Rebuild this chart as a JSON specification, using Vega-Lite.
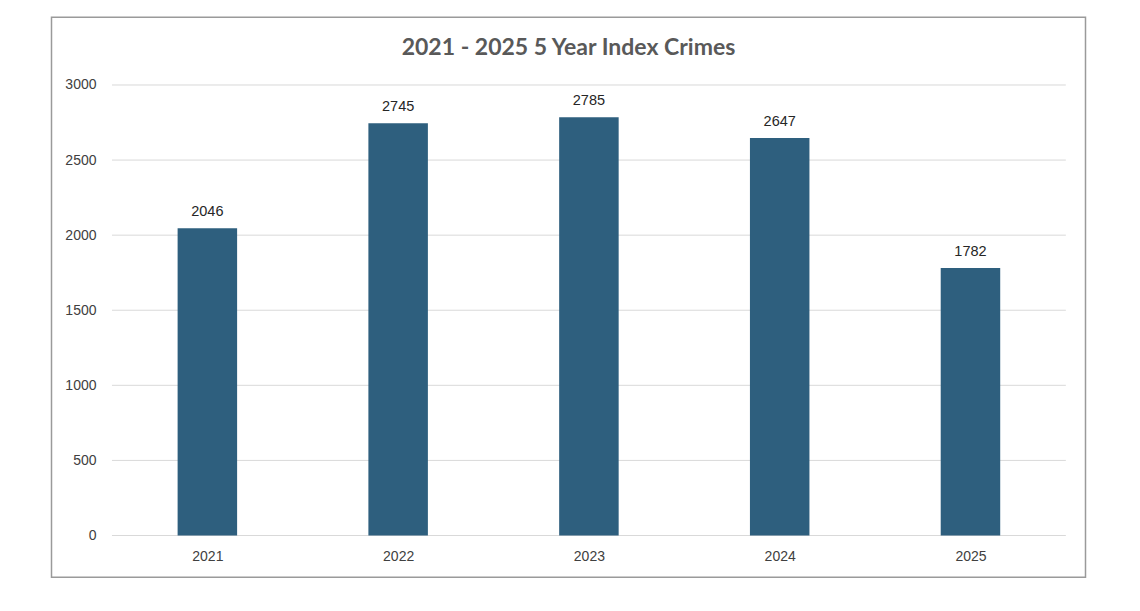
{
  "$schema": "https://vega.github.io/schema/vega-lite/v6.json",
  "autosize": {"type": "none"},
  "width": 1034,
  "height": 560,
  "padding": {"left": 51.5, "top": 17.3, "right": 54.5, "bottom": 33.7},
  "background": "white",
  "config": {
    "view": {"stroke": "#9a9a9a", "strokeWidth": 1.5},
    "font": "Liberation Sans"
  },
  "title": {
    "text": "2021 - 2025 5 Year Index Crimes",
    "font": "Lato",
    "fontWeight": "bold",
    "fontSize": 23,
    "color": "#595959",
    "anchor": "middle",
    "baseline": "alphabetic",
    "offset": -60.7
  },
  "layer": [
    {
      "data": {"values": [{"g": 0}, {"g": 500}, {"g": 1000}, {"g": 1500}, {"g": 2000}, {"g": 2500}, {"g": 3000}]},
      "mark": {"type": "rule", "color": "#d9d9d9", "strokeWidth": 1},
      "encoding": {
        "x": {"datum": 2020.5, "type": "quantitative"},
        "x2": {"datum": 2025.5},
        "y": {"field": "g", "type": "quantitative"}
      }
    },
    {
      "data": {"values": [
        {"year": 2021, "crimes": 2046},
        {"year": 2022, "crimes": 2745},
        {"year": 2023, "crimes": 2785},
        {"year": 2024, "crimes": 2647},
        {"year": 2025, "crimes": 1782}
      ]},
      "layer": [
        {
          "mark": {"type": "bar", "width": 59.5, "color": "#2e5f7e"},
          "encoding": {
            "x": {"field": "year", "type": "quantitative",
              "scale": {"domain": [2020.183, 2025.603], "nice": false, "zero": false, "padding": 0},
              "axis": {"title": null, "values": [2021, 2022, 2023, 2024, 2025], "format": "d", "domain": false, "ticks": false, "grid": false, "offset": -41.8, "labelPadding": 14, "labelFontSize": 14, "labelColor": "#404040", "labelFont": "Liberation Sans"}},
            "y": {"field": "crimes", "type": "quantitative",
              "scale": {"domain": [-278.4, 3450.8], "nice": false, "zero": false, "padding": 0},
              "axis": {"title": null, "values": [0, 500, 1000, 1500, 2000, 2500, 3000], "format": "d", "domain": false, "ticks": false, "grid": false, "offset": -60.5, "labelPadding": 16, "labelFontSize": 14, "labelColor": "#404040", "labelFont": "Liberation Sans"}}
          }
        },
        {
          "mark": {"type": "text", "dy": -12, "baseline": "alphabetic", "fontSize": 14.5, "color": "#262626", "font": "Liberation Sans"},
          "encoding": {
            "x": {"field": "year", "type": "quantitative"},
            "y": {"field": "crimes", "type": "quantitative"},
            "text": {"field": "crimes", "type": "quantitative", "format": "d"}
          }
        }
      ]
    }
  ]
}
